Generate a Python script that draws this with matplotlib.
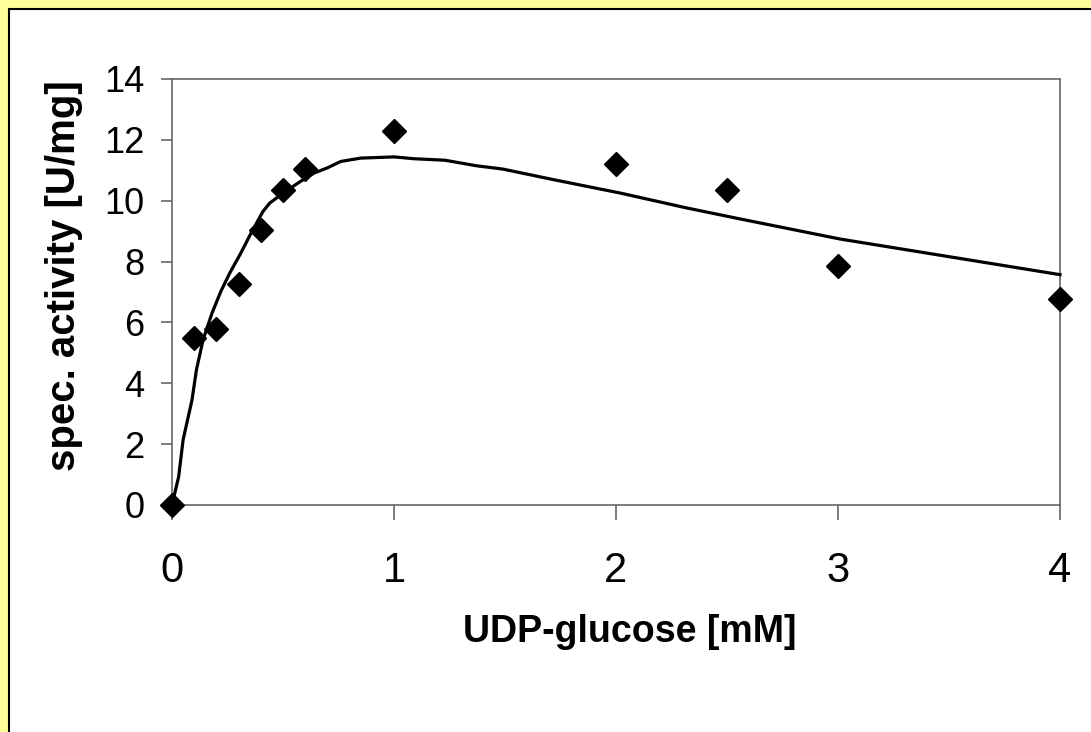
import matplotlib
matplotlib.use("Agg")
import matplotlib.pyplot as plt
from matplotlib.patches import Rectangle
from matplotlib import font_manager

# measured points
substrate = [0, 0.1, 0.2, 0.3, 0.4, 0.5, 0.6, 1, 2, 2.5, 3, 4]
activity = [0, 5.5, 5.8, 7.25, 9.05, 10.35, 11.05, 12.3, 11.2, 10.35, 7.85, 6.78]

# fitted curve
fit_x = [0, 0.03, 0.05, 0.09, 0.11, 0.14, 0.18, 0.22, 0.26, 0.31, 0.36, 0.41,
         0.44, 0.50, 0.58, 0.64, 0.70, 0.76, 0.85, 1.0, 1.09, 1.23, 1.37, 1.49,
         1.72, 2.02, 2.32, 2.56, 3.01, 4.0]
fit_y = [0, 0.93, 2.14, 3.45, 4.44, 5.43, 6.3, 7.02, 7.62, 8.28, 8.99, 9.65,
         9.92, 10.25, 10.64, 10.91, 11.08, 11.29, 11.40, 11.44, 11.38, 11.33, 11.15, 11.04,
         10.69, 10.25, 9.76, 9.40, 8.74, 7.57]

x_ticks = [0, 1, 2, 3, 4]
y_ticks = [0, 2, 4, 6, 8, 10, 12, 14]

# narrow face if there is one, else plain Liberation Sans
names = {f.name for f in font_manager.fontManager.ttflist}
if 'Liberation Sans Narrow' in names:
    tick_font = ['Liberation Sans Narrow', 'DejaVu Sans']
    y_size, x_size = 29, 32
else:
    tick_font = ['Liberation Sans', 'DejaVu Sans']
    y_size, x_size = 26, 30
label_font = ['Liberation Sans', 'DejaVu Sans']

fig = plt.figure(figsize=(10.91, 7.32), dpi=100, facecolor='#FFFF99')

# white panel with black border (top and left visible)
fig.patches.append(Rectangle((8.5 / 1091, -0.2), 1.2, 1.2 - 8.5 / 732,
                             transform=fig.transFigure, facecolor='white',
                             edgecolor='black', linewidth=1.5, zorder=-10))

ax = fig.add_axes([172 / 1091, 1 - 505 / 732, 888 / 1091, 426 / 732])
ax.set_facecolor('white')

ax.plot(fit_x, fit_y, color='black', linewidth=2.3, zorder=3, clip_on=False)
ax.plot(substrate, activity, linestyle='none', marker='D', markersize=12.5,
        color='black', zorder=4, clip_on=False)

ax.set_xlim(0, 4)
ax.set_ylim(0, 14)
ax.set_xticks(x_ticks)
ax.set_yticks(y_ticks)

for s in ax.spines.values():
    s.set_color('#666666')
    s.set_linewidth(1.2)

ax.tick_params(axis='x', direction='out', length=11, width=1.2, color='#666666', pad=22)
ax.tick_params(axis='y', direction='out', length=8, width=1.2, color='#666666', pad=12)
for lab in ax.get_xticklabels():
    lab.set_fontfamily(tick_font)
    lab.set_fontsize(x_size)
for lab in ax.get_yticklabels():
    lab.set_fontfamily(tick_font)
    lab.set_fontsize(y_size)

ax.set_xlabel('UDP-glucose [mM]', fontsize=27, fontweight='bold', family=label_font)
ax.set_ylabel('spec. activity [U/mg]', fontsize=29, fontweight='bold', family=label_font)
ax.xaxis.label.set_va('center')
ax.yaxis.label.set_va('center')
ax.xaxis.set_label_coords(0.515, -0.298)
ax.yaxis.set_label_coords(-0.122, 0.538)

fig.savefig('out.png', dpi=100, facecolor=fig.get_facecolor())
